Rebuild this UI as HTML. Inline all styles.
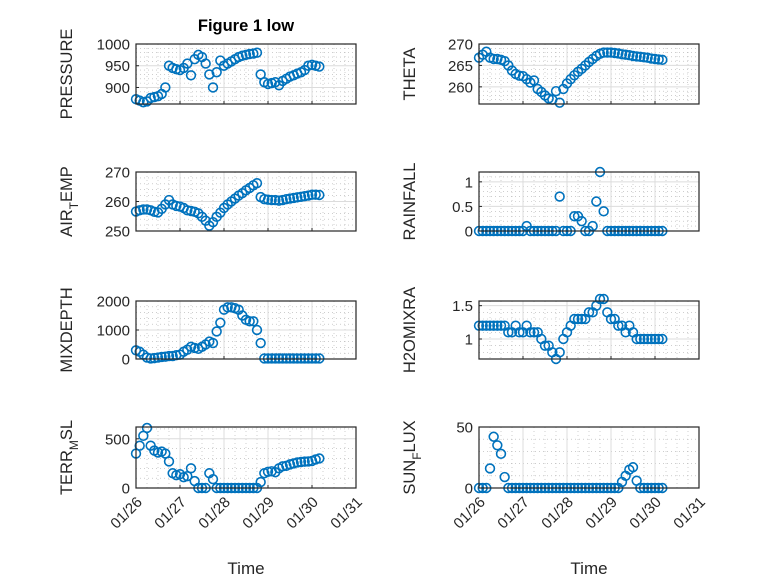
<!DOCTYPE html>
<html><head><meta charset="utf-8"><style>
html,body{margin:0;padding:0;background:#fff;}
svg{display:block;font-family:"Liberation Sans",sans-serif;}
</style></head><body>
<svg id="fig" width="778" height="583" viewBox="0 0 778 583"></svg>
<script>
const hours = [0,2,4,6,8,10,12,14,16,18,20,22,24,26,28,30,32,34,36,38,40,42,44,46,48,50,52,54,56,58,60,62,64,66,68,70,72,74,76,78,80,82,84,86,88,90,92,94,96,98,100];
const dayTickLabels = ['01/26','01/27','01/28','01/29','01/30','01/31'];
const pressure = [873,870,866,868,876,878,880,885,900,950,945,942,940,945,955,928,965,975,970,955,930,900,935,962,950,955,960,965,970,973,975,977,978,980,930,912,908,910,912,905,915,920,925,928,932,935,940,950,952,950,948];
const theta = [266.8,267.5,268.2,266.8,266.5,266.5,266.3,266.0,265.0,263.8,263.0,262.6,262.5,261.8,261.0,261.5,259.5,258.8,258.0,257.3,257.0,259.0,256.3,259.5,260.8,261.8,262.7,263.5,264.2,265.0,265.8,266.5,267.2,267.7,268.0,268.0,268.0,267.9,267.8,267.6,267.5,267.4,267.2,267.1,267.0,266.9,266.8,266.6,266.5,266.4,266.3];
const airTemp = [256.6,257.0,257.3,257.3,257.0,256.5,256.3,257.5,259.0,260.5,259.0,258.5,258.3,257.8,257.0,256.8,256.5,256.0,254.8,253.5,251.8,253.0,254.8,256.2,257.8,259.0,260.0,261.0,262.0,262.8,263.8,264.6,265.5,266.2,261.5,260.8,260.6,260.5,260.5,260.3,260.5,260.8,261.0,261.2,261.4,261.6,261.8,262.0,262.3,262.3,262.2];
const rainfall = [0,0,0,0,0,0,0,0,0,0,0,0,0,0.1,0,0,0,0,0,0,0,0,0.7,0,0,0,0.3,0.3,0.2,0,0,0.1,0.6,1.2,0.4,0,0,0,0,0,0,0,0,0,0,0,0,0,0,0,0];
const mixDepth = [300,250,150,50,20,30,50,70,80,100,100,130,150,250,320,420,380,350,420,500,600,550,950,1250,1700,1780,1780,1750,1700,1500,1350,1300,1300,1000,550,20,20,20,20,20,20,20,20,20,20,20,20,20,20,20,20];
const h2oMix = [1.2,1.2,1.2,1.2,1.2,1.2,1.2,1.2,1.1,1.1,1.2,1.1,1.1,1.2,1.1,1.1,1.1,1.0,0.9,0.9,0.8,0.7,0.8,1.0,1.1,1.2,1.3,1.3,1.3,1.3,1.4,1.4,1.5,1.6,1.6,1.4,1.3,1.3,1.2,1.2,1.1,1.2,1.1,1.0,1.0,1.0,1.0,1.0,1.0,1.0,1.0];
const terrMsl = [350,430,530,610,430,380,360,370,350,270,150,130,140,110,120,200,70,0,0,0,150,90,0,0,0,0,0,0,0,0,0,0,0,0,60,150,165,170,160,200,220,225,240,250,260,265,268,270,275,290,300];
const sunFlux = [0,0,0,16,42,35,28,9,0,0,0,0,0,0,0,0,0,0,0,0,0,0,0,0,0,0,0,0,0,0,0,0,0,0,0,0,0,0,0,5,10,15,17,6,0,0,0,0,0,0,0];

const NS='http://www.w3.org/2000/svg';
const svg=document.getElementById('fig');
function mk(tag,attrs,parent){const e=document.createElementNS(NS,tag);for(const k in attrs)e.setAttribute(k,attrs[k]);(parent||svg).appendChild(e);return e;}

const cols=[{x0:136,x1:356},{x0:479,x1:699}];
const rows=[{y0:44,y1:104},{y0:172,y1:231},{y0:301,y1:359},{y0:427,y1:488}];

const panels=[
 {name:'pressure',data:pressure,col:0,row:0,ymin:862,ymax:1000,ticks:[900,950,1000],minor:10,label:['PRESSURE']},
 {name:'theta',data:theta,col:1,row:0,ymin:256,ymax:270,ticks:[260,265,270],minor:1,label:['THETA']},
 {name:'air-temp',data:airTemp,col:0,row:1,ymin:250,ymax:270,ticks:[250,260,270],minor:2,label:['AIR','T','EMP']},
 {name:'rainfall',data:rainfall,col:1,row:1,ymin:0,ymax:1.2,ticks:[0,0.5,1],minor:0.1,label:['RAINFALL']},
 {name:'mixdepth',data:mixDepth,col:0,row:2,ymin:0,ymax:2000,ticks:[0,1000,2000],minor:200,label:['MIXDEPTH']},
 {name:'h2omixra',data:h2oMix,col:1,row:2,ymin:0.7,ymax:1.57,ticks:[1,1.5],minor:0.1,label:['H2OMIXRA']},
 {name:'terr-msl',data:terrMsl,col:0,row:3,ymin:0,ymax:620,ticks:[0,500],minor:100,label:['TERR','M','SL']},
 {name:'sun-flux',data:sunFlux,col:1,row:3,ymin:0,ymax:50,ticks:[0,50],minor:10,label:['SUN','F','LUX']}
];

panels.forEach(p=>{
 const c=cols[p.col], r=rows[p.row];
 const xs=h=>c.x0+(h/120)*(c.x1-c.x0);
 const ys=v=>r.y1-(v-p.ymin)/(p.ymax-p.ymin)*(r.y1-r.y0);
 const g=mk('g',{});
 
 
 mk('rect',{x:c.x0,y:r.y0,width:c.x1-c.x0,height:r.y1-r.y0,fill:'#fff'},g);
 for(let h=6;h<120;h+=6){ if(h%24===0)continue;
  mk('line',{x1:xs(h),x2:xs(h),y1:r.y0,y2:r.y1,stroke:'#b0b0b0','stroke-width':0.6,'stroke-dasharray':'1,3'},g);}
 const step=p.minor; let v=Math.ceil(p.ymin/step-1e-6)*step;
 for(;v<p.ymax-1e-9;v+=step){ const vv=Math.round(v*1000)/1000; if(p.ticks.some(t=>Math.abs(t-vv)<1e-6))continue;
  mk('line',{x1:c.x0,x2:c.x1,y1:ys(vv),y2:ys(vv),stroke:'#b0b0b0','stroke-width':0.6,'stroke-dasharray':'1,3'},g);}
 for(let d=1;d<5;d++) mk('line',{x1:xs(d*24),x2:xs(d*24),y1:r.y0,y2:r.y1,stroke:'#dcdcdc','stroke-width':1},g);
 p.ticks.forEach(t=>{ mk('line',{x1:c.x0,x2:c.x1,y1:ys(t),y2:ys(t),stroke:'#dcdcdc','stroke-width':1},g);
  mk('line',{x1:c.x0,x2:c.x0+3,y1:ys(t),y2:ys(t),stroke:'#262626','stroke-width':1},g);
  const tl=mk('text',{x:c.x0-6,y:ys(t)+5.5,'text-anchor':'end','font-size':15,fill:'#262626'},g);
  tl.textContent=String(t);
  
  
 });
 for(let d=1;d<5;d++) mk('line',{x1:xs(d*24),x2:xs(d*24),y1:r.y1,y2:r.y1-3,stroke:'#262626','stroke-width':1},g);
 p.data.forEach((val,i)=>{
  const m=mk('circle',{cx:xs(hours[i]),cy:ys(val),r:4.4,fill:'none',stroke:'#0072BD','stroke-width':1.6},g);
  
  
 });
 mk('rect',{x:c.x0,y:r.y0,width:c.x1-c.x0,height:r.y1-r.y0,fill:'none',stroke:'#262626','stroke-width':1.2},g);
 const cy=(r.y0+r.y1)/2, lx=c.x0-64;
 const yl=mk('text',{x:0,y:0,'text-anchor':'middle','font-size':16.5,fill:'#262626',transform:`translate(${lx},${cy}) rotate(-90)`},g);
 
 
 if(p.label.length===1){yl.textContent=p.label[0];}
 else{
  const a=mk('tspan',{},yl);a.textContent=p.label[0];
  const b=mk('tspan',{dy:6,'font-size':12},yl);b.textContent=p.label[1];
  const d=mk('tspan',{dy:-6},yl);d.textContent=p.label[2];
 }
 if(p.row===3){
  dayTickLabels.forEach((lab,i)=>{
   const x=xs(i*24);
   const t=mk('text',{x:0,y:0,'text-anchor':'end','font-size':15,fill:'#262626',transform:`translate(${x+7},${r.y1+15}) rotate(-45)`},g);
   t.textContent=lab;
   
   
  });
  const xl=mk('text',{x:(c.x0+c.x1)/2,y:574,'text-anchor':'middle','font-size':17,fill:'#262626'},g);
  xl.textContent='Time';
  
  
 }
});
const title=mk('text',{x:246,y:31,'text-anchor':'middle','font-size':16.5,'font-weight':'bold',fill:'#000'});
title.textContent='Figure 1 low';


</script>
</body></html>
